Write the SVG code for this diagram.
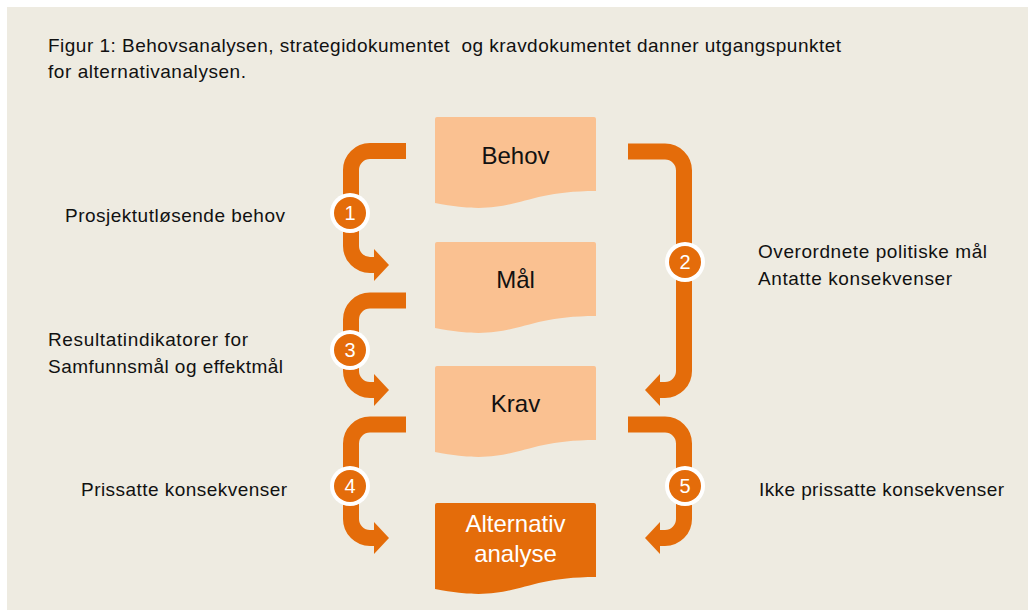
<svg xmlns="http://www.w3.org/2000/svg" width="1028" height="610" viewBox="0 0 1028 610">
<style>
.bg{fill:#EEEBE1}
.doc{fill:#FAC191}
.docd{fill:#E46C0A}
.lbl{font-family:"Liberation Sans",Arial,sans-serif;font-size:19px;fill:#111}
.box{font-family:"Liberation Sans",Arial,sans-serif;font-size:24px;fill:#111;text-anchor:middle}
.boxw{font-family:"Liberation Sans",Arial,sans-serif;font-size:24px;fill:#fff;text-anchor:middle}
.conn{fill:none;stroke:#E46C0A;stroke-width:16}
.ring{fill:#fff}
.dot{fill:#E46C0A}
.num{font-family:"Liberation Sans",Arial,sans-serif;font-size:20px;fill:#fff;text-anchor:middle}
</style>
<defs>
<marker id="ah" markerUnits="userSpaceOnUse" markerWidth="16" markerHeight="34" viewBox="0 -17 16 34" refX="0" refY="0" orient="auto">
<path d="M0,-16 L15,0 L0,16 Z" fill="#E46C0A"/>
</marker>
<path id="docshape" d="M2,0 H159 Q161,0 161,2 V74 C80.5,74 80.5,102 0,86 V2 Q0,0 2,0 Z"/>
</defs>
<rect class="bg" x="7" y="7" width="1021" height="603"/>
<g id="title">
<text class="lbl" x="48" y="52" textLength="793" xml:space="preserve">Figur 1: Behovsanalysen, strategidokumentet  og kravdokumentet danner utgangspunktet</text>
<text class="lbl" x="48" y="78" textLength="198">for alternativanalysen.</text>
</g>
<g id="connectors">
<path class="conn" marker-end="url(#ah)" d="M406,151 H370 A19,19 0 0 0 351,170 V246 A19,19 0 0 0 370,265 H374"/>
<path class="conn" marker-end="url(#ah)" d="M406,300.5 H370 A19,19 0 0 0 351,319.5 V371 A19,19 0 0 0 370,390 H374"/>
<path class="conn" marker-end="url(#ah)" d="M406,424.5 H370 A19,19 0 0 0 351,443.5 V519 A19,19 0 0 0 370,538 H374"/>
<path class="conn" marker-end="url(#ah)" d="M628,151.5 H665 A19,19 0 0 1 684,170.5 V371 A19,19 0 0 1 665,390 H660"/>
<path class="conn" marker-end="url(#ah)" d="M628,424.5 H665 A19,19 0 0 1 684,443.5 V519 A19,19 0 0 1 665,538 H660"/>
</g>
<g id="node-behov">
<use href="#docshape" class="doc" x="435" y="117"/>
<text class="box" x="515.5" y="164">Behov</text>
</g>
<g id="node-maal">
<use href="#docshape" class="doc" x="435" y="242"/>
<text class="box" x="515.5" y="288">Mål</text>
</g>
<g id="node-krav">
<use href="#docshape" class="doc" x="435" y="366"/>
<text class="box" x="515.5" y="412">Krav</text>
</g>
<g id="node-alternativ">
<use href="#docshape" class="docd" x="435" y="503"/>
<text class="boxw" x="515.5" y="532">Alternativ</text>
<text class="boxw" x="515.5" y="562">analyse</text>
</g>
<g id="badge-1"><circle class="ring" cx="350" cy="213" r="20"/><circle class="dot" cx="350" cy="213" r="16"/><text class="num" x="350" y="220">1</text></g>
<g id="badge-2"><circle class="ring" cx="685" cy="262" r="20"/><circle class="dot" cx="685" cy="262" r="16"/><text class="num" x="685" y="269">2</text></g>
<g id="badge-3"><circle class="ring" cx="350" cy="350" r="20"/><circle class="dot" cx="350" cy="350" r="16"/><text class="num" x="350" y="357">3</text></g>
<g id="badge-4"><circle class="ring" cx="350" cy="486" r="20"/><circle class="dot" cx="350" cy="486" r="16"/><text class="num" x="350" y="493">4</text></g>
<g id="badge-5"><circle class="ring" cx="685" cy="486" r="20"/><circle class="dot" cx="685" cy="486" r="16"/><text class="num" x="685" y="493">5</text></g>
<g id="labels">
<text class="lbl" x="65" y="222" textLength="220">Prosjektutløsende behov</text>
<text class="lbl" x="48" y="346" textLength="200">Resultatindikatorer for</text>
<text class="lbl" x="48" y="373" textLength="235">Samfunnsmål og effektmål</text>
<text class="lbl" x="758" y="258" textLength="229">Overordnete politiske mål</text>
<text class="lbl" x="758" y="285" textLength="194">Antatte konsekvenser</text>
<text class="lbl" x="81" y="496" textLength="206">Prissatte konsekvenser</text>
<text class="lbl" x="759" y="496" textLength="245">Ikke prissatte konsekvenser</text>
</g>
</svg>
